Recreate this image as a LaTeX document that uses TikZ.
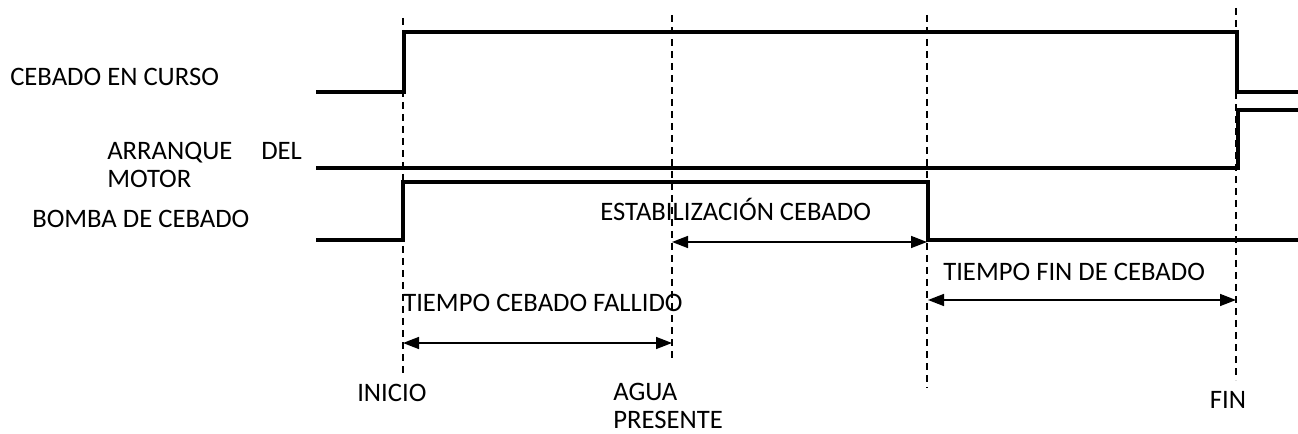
\documentclass[tikz,border=0pt]{standalone}
\usepackage{fontspec}
\setmainfont{Carlito}
\usetikzlibrary{arrows.meta, positioning, calc}

\begin{document}
\begin{tikzpicture}[
    x=0.75pt, y=-0.75pt,
    sig/.style={line width=3pt, line cap=butt, line join=miter},
    guide/.style={line width=0.8pt, dash pattern=on 5.5pt off 3.5pt},
    dimarrow/.style={{Triangle[length=12pt, width=9pt]}-{Triangle[length=12pt, width=9pt]}, line width=1.1pt},
    lbl/.style={inner sep=0pt, font=\fontsize{20}{21}\selectfont}
]
\useasboundingbox (0,0) rectangle (1298,434);

% senales
\draw[sig] (316,92) -- (404,92) -- (404,32) -- (1237,32) -- (1237,92) -- (1298,92);
\draw[sig] (316,168) -- (1238,168) -- (1238,110) -- (1298,110);
\draw[sig] (316,240) -- (403,240) -- (403,182) -- (928,182) -- (928,240) -- (1298,240);

% marcas de tiempo
\coordinate (t0) at (403,18);
\coordinate (t1) at (672,15);
\coordinate (t2) at (927,15);
\coordinate (t3) at (1236,8);
\coordinate (e0) at (403,373);
\coordinate (e1) at (672,362);
\coordinate (e2) at (927,388);
\coordinate (e3) at (1236,380);
\draw[guide] (t0) -- (e0);
\draw[guide] (t1) -- (e1);
\draw[guide] (t2) -- (e2);
\draw[guide] (t3) -- (e3);

% etiquetas
\node[lbl, anchor=base west] (curso) at (10,86) {CEBADO EN CURSO};
\node[lbl, anchor=west, text width=146pt, align=left] (arranque) at (107,165) {ARRANQUE\hfill DEL\\MOTOR};
\node[lbl, anchor=base west] (bomba) at (32,228) {BOMBA DE CEBADO};
\node[lbl, anchor=base west] (estab) at (600,221) {ESTABILIZACIÓN CEBADO};
\node[lbl, anchor=base west] (finT) at (943,281) {TIEMPO FIN DE CEBADO};
\node[lbl, anchor=base west] (fallido) at (403,311) {TIEMPO CEBADO FALLIDO};
\node[lbl, anchor=base west] (inicio) at (357,401) {INICIO};
\node[lbl, anchor=west, align=left] (agua) at (613,406) {AGUA\\PRESENTE};
\node[lbl, anchor=base] (fin) at (1228,408) {FIN};

% intervalos
\coordinate (a0) at (403,343);
\coordinate (a1) at (672,343);
\coordinate (b0) at (672,242);
\coordinate (b1) at (927,242);
\coordinate (c0) at (928,300);
\coordinate (c1) at (1236,300);
\draw[dimarrow] (a0) -- (a1);
\draw[dimarrow] (b0) -- (b1);
\draw[dimarrow] (c0) -- (c1);
\end{tikzpicture}
\end{document}
